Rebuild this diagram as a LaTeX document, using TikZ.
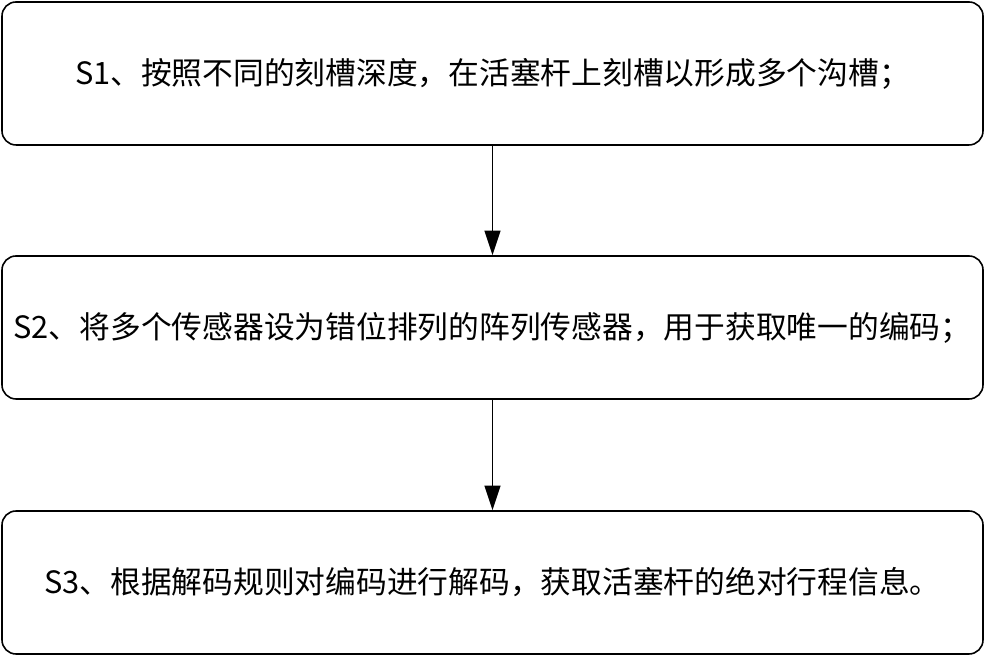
\documentclass[tikz,border=0pt]{standalone}
\usepackage{fontspec}
\setmainfont{Noto Sans CJK SC}
\usetikzlibrary{arrows.meta}
\begin{document}
\begin{tikzpicture}
\useasboundingbox (0,0) rectangle (20,13.32);
\tikzset{stepbox/.style={draw=black,line width=0.9pt,rounded corners=8pt,minimum width=19.62cm,minimum height=2.86cm,inner sep=0pt,font=\fontsize{17.5pt}{19pt}\selectfont},
 conn/.style={-{Triangle[length=14pt,width=9pt]},line width=1pt}}
\node[stepbox] (s1) at (9.85,11.85) {S1、按照不同的刻槽深度，在活塞杆上刻槽以形成多个沟槽；};
\node[stepbox] (s2) at (9.85,6.77) {S2、将多个传感器设为错位排列的阵列传感器，用于获取唯一的编码；};
\node[stepbox] (s3) at (9.85,1.67) {S3、根据解码规则对编码进行解码，获取活塞杆的绝对行程信息。};
\draw[conn] (s1) -- (s2);
\draw[conn] (s2) -- (s3);
\end{tikzpicture}
\end{document}
